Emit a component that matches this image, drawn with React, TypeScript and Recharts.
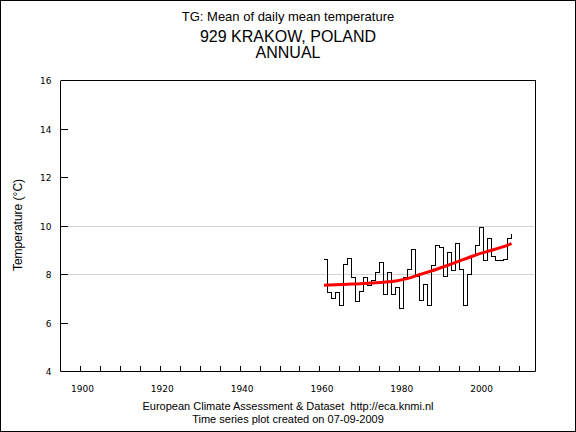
import React from 'react';
import { ComposedChart, Line, XAxis, YAxis, ReferenceLine } from 'recharts';

// annual mean of daily mean temperature, Krakow
const years = [
  1961, 1962, 1963, 1964, 1965, 1966, 1967, 1968, 1969, 1970,
  1971, 1972, 1973, 1974, 1975, 1976, 1977, 1978, 1979, 1980,
  1981, 1982, 1983, 1984, 1985, 1986, 1987, 1988, 1989, 1990,
  1991, 1992, 1993, 1994, 1995, 1996, 1997, 1998, 1999, 2000,
  2001, 2002, 2003, 2004, 2005, 2006, 2007, 2008,
];
const tgValues = [
  8.6, 7.27, 7.0, 7.27, 6.72, 8.4, 8.68, 7.88, 6.88, 7.28,
  7.86, 7.55, 7.75, 8.1, 8.5, 7.18, 8.1, 7.18, 7.45, 6.6,
  7.86, 8.2, 9.03, 7.9, 6.94, 7.58, 6.72, 8.36, 9.18, 9.1,
  7.92, 8.89, 8.15, 9.26, 8.2, 6.74, 8.0, 8.8, 9.18, 9.95,
  8.56, 9.47, 8.75, 8.56, 8.56, 8.6, 9.47, 9.68,
];

// smoothed trend (red)
const trendYears = [1961, 1964, 1967, 1970, 1973, 1976, 1979, 1982, 1985, 1988, 1991, 1994, 1997, 2000, 2003, 2006, 2008];
const trendValues = [7.56, 7.58, 7.6, 7.62, 7.65, 7.68, 7.73, 7.84, 8.0, 8.15, 8.32, 8.5, 8.68, 8.86, 9.0, 9.15, 9.27];

const xTicks = [
  1900, 1905, 1910, 1915, 1920, 1925, 1930, 1935, 1940, 1945, 1950, 1955,
  1960, 1965, 1970, 1975, 1980, 1985, 1990, 1995, 2000, 2005, 2010,
];
const xLabelYears = [1900, 1920, 1940, 1960, 1980, 2000];
const yTicks = [4, 6, 8, 10, 12, 14, 16];
const gridValues = [8, 10];

const series = years.map((year, i) => ({ year, tg: tgValues[i] }));
const trend = trendYears.map((year, i) => ({ year, trend: trendValues[i] }));

const sans = '"Liberation Sans", Arial, sans-serif';
const tickFont = '"DejaVu Sans", Verdana, sans-serif';

const BottomTick = (props: any) => {
  const { x, y, payload } = props;
  const show = xLabelYears.includes(payload.value);
  return (
    <g>
      <line x1={x} x2={x} y1={y} y2={y - 6} stroke="#000" shapeRendering="crispEdges" />
      {show && (
        <text x={x + 2} y={y + 20} textAnchor="middle" fontSize={9} fontFamily={tickFont} fill="#000">
          {payload.value}
        </text>
      )}
    </g>
  );
};

const LeftTick = (props: any) => {
  const { x, y, payload } = props;
  return (
    <g>
      <line x1={x} x2={x + 7} y1={y} y2={y} stroke="#000" shapeRendering="crispEdges" />
      <text x={x - 9} y={y + 3.5} textAnchor="end" fontSize={9} fontFamily={tickFont} fill="#000">
        {payload.value}
      </text>
    </g>
  );
};

const RightTick = (props: any) => {
  const { x, y, payload } = props;
  return (
    <g>
      <line x1={x} x2={x - 7} y1={y} y2={y} stroke="#000" shapeRendering="crispEdges" />
      <text x={x + 9} y={y + 3.5} textAnchor="start" fontSize={9} fontFamily={tickFont} fill="#000">
        {payload.value}
      </text>
    </g>
  );
};

export default function App() {
  const centered: React.CSSProperties = {
    position: 'absolute',
    left: 0,
    width: 576,
    textAlign: 'center',
    fontFamily: sans,
    color: '#000',
    whiteSpace: 'nowrap',
  };
  return (
    <div style={{ position: 'absolute', left: 0, top: 0, width: 576, height: 432, background: '#fff' }}>
      <ComposedChart
        width={576}
        height={432}
        margin={{ top: 80.5, right: 0.5, bottom: 0.5, left: 0.5 }}
      >
        <XAxis
          dataKey="year"
          type="number"
          domain={[1895, 2014]}
          ticks={xTicks}
          interval={0}
          height={60}
          tickSize={0}
          tickMargin={0}
          tickLine={false}
          tick={<BottomTick />}
          axisLine={{ stroke: '#000' }}
        />
        <YAxis
          type="number"
          domain={[4, 16]}
          ticks={yTicks}
          interval={0}
          width={60}
          tickSize={0}
          tickMargin={0}
          tickLine={false}
          tick={<LeftTick />}
          axisLine={{ stroke: '#000' }}
        />
        <YAxis
          yAxisId="right"
          orientation="right"
          type="number"
          domain={[4, 16]}
          ticks={yTicks}
          interval={0}
          width={40}
          tickSize={0}
          tickMargin={0}
          tickLine={false}
          tick={<RightTick />}
          axisLine={{ stroke: '#000' }}
        />
        {gridValues.map((v) => (
          <ReferenceLine key={v} y={v} stroke="#d4d4d4" strokeWidth={1} shapeRendering="crispEdges" />
        ))}
        <ReferenceLine y={16} stroke="#000" strokeWidth={1} shapeRendering="crispEdges" />
        <Line
          data={series}
          dataKey="tg"
          type="stepAfter"
          stroke="#000"
          strokeWidth={1}
          dot={false}
          activeDot={false}
          isAnimationActive={false}
          shapeRendering="crispEdges"
        />
        <Line
          data={trend}
          dataKey="trend"
          type="monotone"
          stroke="#ff0000"
          strokeWidth={3}
          dot={false}
          activeDot={false}
          isAnimationActive={false}
        />
      </ComposedChart>

      <div style={{ ...centered, top: 9, fontSize: 13, lineHeight: '16px' }}>
        TG: Mean of daily mean temperature
      </div>
      <div style={{ ...centered, top: 28, fontSize: 16, lineHeight: '18px' }}>929 KRAKOW, POLAND</div>
      <div style={{ ...centered, top: 44, fontSize: 16, lineHeight: '18px' }}>ANNUAL</div>

      <div
        style={{
          position: 'absolute',
          left: 18,
          top: 225,
          transform: 'translate(-50%, -50%) rotate(-90deg)',
          fontFamily: sans,
          fontSize: 12,
          whiteSpace: 'nowrap',
        }}
      >
        Temperature (°C)
      </div>

      <div style={{ ...centered, top: 399, fontSize: 11, lineHeight: '14px' }}>
        European Climate Assessment &amp; Dataset&nbsp; http://eca.knmi.nl
      </div>
      <div style={{ ...centered, top: 412, fontSize: 11, lineHeight: '14px' }}>
        Time series plot created on 07-09-2009
      </div>

      <div
        style={{
          position: 'absolute',
          left: 0,
          top: 0,
          width: 576,
          height: 432,
          boxSizing: 'border-box',
          border: '1px solid #000',
          pointerEvents: 'none',
        }}
      />
    </div>
  );
}
